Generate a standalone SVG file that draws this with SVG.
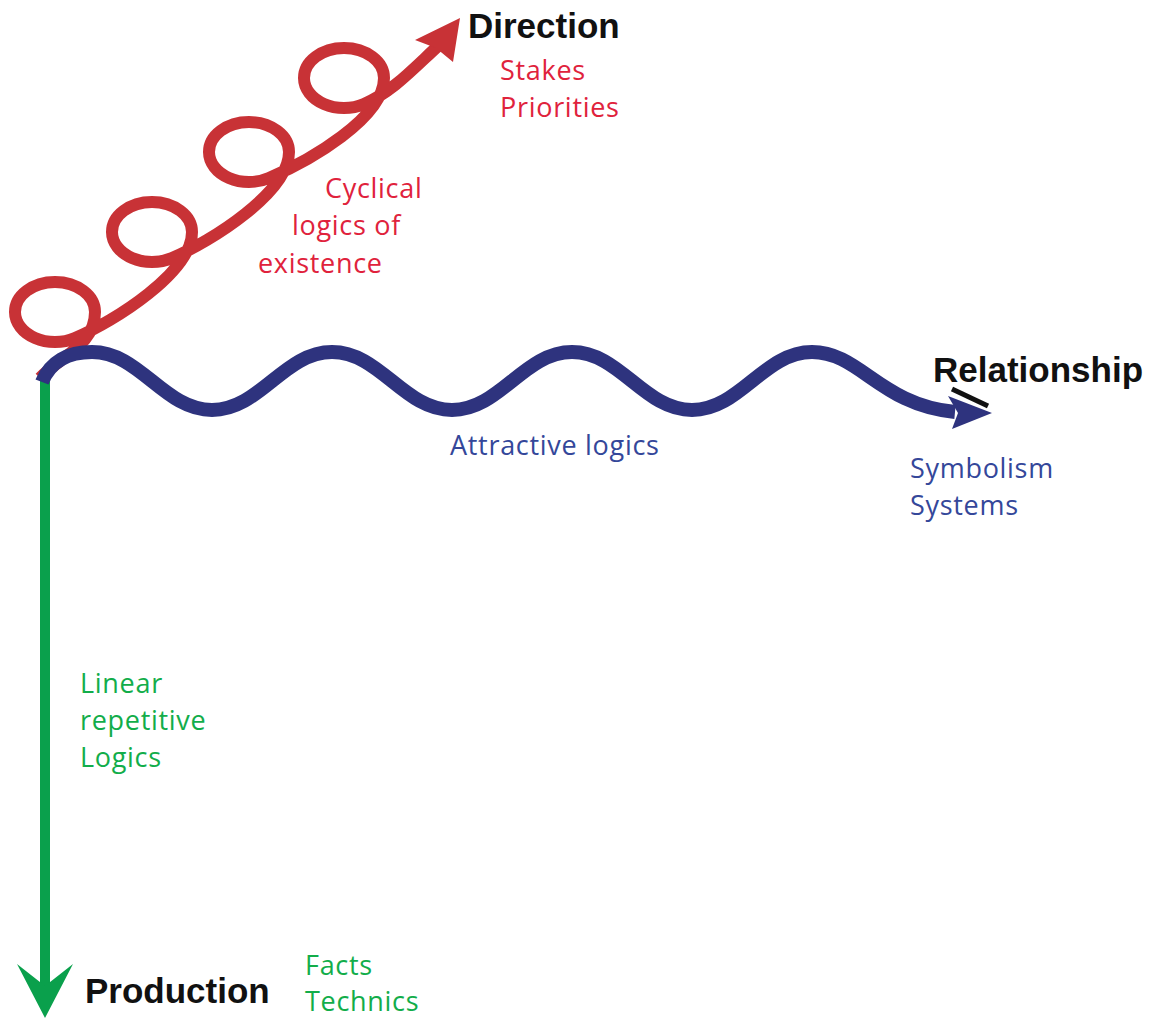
<svg xmlns="http://www.w3.org/2000/svg" width="1151" height="1019" viewBox="0 0 1151 1019">
<style>
.red{fill:none;stroke:#c83236;stroke-width:12;stroke-linejoin:round}
.blue{fill:none;stroke:#2e337e;stroke-width:14}
.green{fill:none;stroke:#0aa04c;stroke-width:10}
.title{font-family:"Liberation Sans",Arial,sans-serif;font-weight:bold;fill:#111;font-size:35px}
.lbl{font-family:"Open Sans","Noto Sans",sans-serif;font-size:27px;letter-spacing:0.7px}
.r{fill:#e0223c}.b{fill:#34479a}.g{fill:#12ad4a}
</style>
<g id="connectors">
  <g id="green-axis">
    <line class="green" x1="45" y1="378" x2="45" y2="995"/>
    <polygon points="17,964 45,986 73,964 45,1018" fill="#0aa04c"/>
  </g>
  <g id="red-spiral">
    <path class="red" d="M40,378 C62,355 95,345 95,312 A40,30 0 0 0 15,312 A40,30 0 0 0 75,338 C115,321 192,272 192,232 A40,30 0 0 0 112,232 A40,30 0 0 0 172,258 C212,241 289,192 289,152 A40,30 0 0 0 209,152 A40,30 0 0 0 269,178 C309,161 384,118 384,78 A40,30 0 0 0 304,78 A40,30 0 0 0 364,104 C392,92 412,70 438,46"/>
    <polygon points="460,18 415,40 436,48 453,62" fill="#c83236"/>
  </g>
  <g id="blue-wave">
    <path class="blue" d="M42,382 C50,362 68,352 92,352 C140,352 164,410 212,410 S284,352 332,352 S404,410 452,410 S524,352 572,352 S644,410 692,410 S764,352 812,352 C860,352 880,405 955,412"/>
    <polygon points="992,413 948,396 958,413 952,429" fill="#2e337e"/>
    <line x1="952" y1="389" x2="988" y2="406" stroke="#111" stroke-width="5"/>
  </g>
</g>
<g id="node-direction">
  <text class="title" x="468" y="38">Direction</text>
  <text class="lbl r" x="500" y="80">Stakes</text>
  <text class="lbl r" x="500" y="117">Priorities</text>
</g>
<g id="label-cyclical">
  <text class="lbl r" x="325" y="198">Cyclical</text>
  <text class="lbl r" x="292" y="235">logics of</text>
  <text class="lbl r" x="258" y="273">existence</text>
</g>
<g id="node-relationship">
  <text class="title" x="933" y="382">Relationship</text>
  <text class="lbl b" x="910" y="478">Symbolism</text>
  <text class="lbl b" x="910" y="515">Systems</text>
</g>
<g id="label-attractive">
  <text class="lbl b" x="450" y="455">Attractive logics</text>
</g>
<g id="label-linear">
  <text class="lbl g" x="80" y="693">Linear</text>
  <text class="lbl g" x="80" y="730">repetitive</text>
  <text class="lbl g" x="80" y="767">Logics</text>
</g>
<g id="node-production">
  <text class="title" x="85" y="1003">Production</text>
  <text class="lbl g" x="305" y="975">Facts</text>
  <text class="lbl g" x="305" y="1011">Technics</text>
</g>
</svg>
